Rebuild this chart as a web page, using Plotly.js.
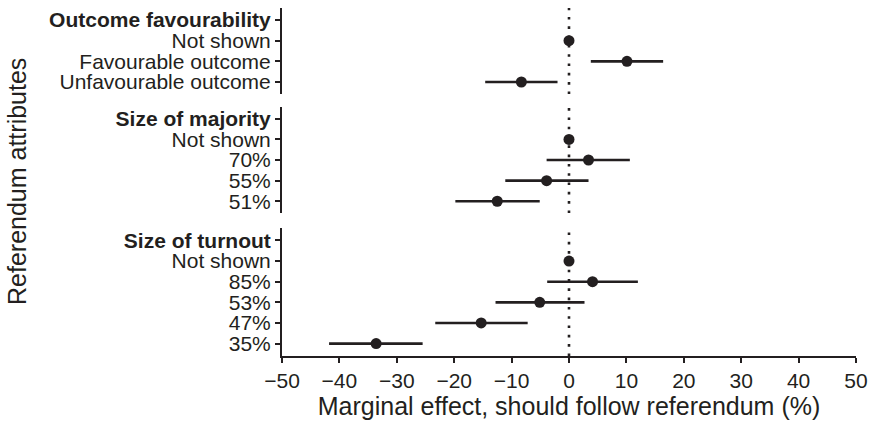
<!DOCTYPE html>
<html>
<head>
<meta charset="utf-8">
<script src="https://cdn.plot.ly/plotly-3.0.1.min.js"></script>
<style>html,body{margin:0;padding:0;background:#fff;}#chart{width:873px;height:422px;}</style>
</head>
<body>
<div id="chart"></div>
<script>
// Panel 1: Outcome favourability
const labels1 = ["<b>Outcome favourability</b>", "Not shown", "Favourable outcome", "Unfavourable outcome"];
const est1 = [null, 0, 10.1, -8.3];
const lo1  = [null, null, 3.8, -14.6];
const hi1  = [null, null, 16.4, -2.0];

// Panel 2: Size of majority
const labels2 = ["<b>Size of majority</b>", "Not shown", "70%", "55%", "51%"];
const est2 = [null, 0, 3.4, -3.9, -12.5];
const lo2  = [null, null, -3.9, -11.1, -19.8];
const hi2  = [null, null, 10.6, 3.4, -5.1];

// Panel 3: Size of turnout
const labels3 = ["<b>Size of turnout</b>", "Not shown", "85%", "53%", "47%", "35%"];
const est3 = [null, 0, 4.1, -5.1, -15.3, -33.6];
const lo3  = [null, null, -3.8, -12.8, -23.3, -41.8];
const hi3  = [null, null, 12.0, 2.7, -7.2, -25.5];

const xTicks = [-50, -40, -30, -20, -10, 0, 10, 20, 30, 40, 50];

const ink = "#231f20";
const fontFam = "'Liberation Sans', Arial, Helvetica, sans-serif";

function panelTrace(labels, est, lo, hi, yaxis) {
  const idx = labels.map((_, i) => i);
  return {
    type: "scatter", mode: "markers",
    x: est, y: idx, yaxis: yaxis, xaxis: "x",
    marker: {color: ink, size: 11},
    error_x: {
      type: "data", symmetric: false,
      array: est.map((v, i) => (hi[i] == null ? 0 : hi[i] - v)),
      arrayminus: est.map((v, i) => (lo[i] == null ? 0 : v - lo[i])),
      color: ink, thickness: 2.6, width: 0
    },
    hoverinfo: "x+y", showlegend: false
  };
}

function yAxis(labels, domain, pad) {
  return {
    domain: domain,
    range: [labels.length - 1 + pad, -pad],
    tickvals: labels.map((_, i) => i),
    ticktext: labels,
    showline: true, linecolor: ink, linewidth: 2,
    ticks: "outside", ticklen: 5, tickwidth: 2, tickcolor: ink,
    showgrid: false, zeroline: false, anchor: "x",
    tickfont: {size: 21, color: ink, family: fontFam},
    fixedrange: true
  };
}

const traces = [
  panelTrace(labels1, est1, lo1, hi1, "y"),
  panelTrace(labels2, est2, lo2, hi2, "y2"),
  panelTrace(labels3, est3, lo3, hi3, "y3")
];

function zeroLine(yref) {
  return {type: "line", xref: "x", yref: yref, x0: 0, x1: 0, y0: 0, y1: 1,
          line: {color: ink, width: 2.6, dash: "2.6px,6.7px"}, layer: "below"};
}

const layout = {
  width: 873, height: 422,
  margin: {l: 282, r: 17, t: 8, b: 66},
  paper_bgcolor: "#fff", plot_bgcolor: "#fff",
  font: {family: fontFam, color: ink},
  xaxis: {
    range: [-50, 50], tickvals: xTicks, anchor: "y3",
    showline: true, linecolor: ink, linewidth: 2,
    ticks: "outside", ticklen: 5, tickwidth: 2, tickcolor: ink,
    showgrid: false, zeroline: false,
    tickfont: {size: 21, color: ink, family: fontFam},
    title: {text: "Marginal effect, should follow referendum (%)", font: {size: 25, color: ink, family: fontFam}, standoff: 6},
    fixedrange: true
  },
  yaxis: yAxis(labels1, [0.7529, 1.0], 0.58),
  yaxis2: yAxis(labels2, [0.4109, 0.7155], 0.57),
  yaxis3: yAxis(labels3, [0.0, 0.3678], 0.6),
  shapes: [zeroLine("y domain"), zeroLine("y2 domain"), zeroLine("y3 domain")],
  annotations: [{
    text: "Referendum attributes", xref: "paper", yref: "paper",
    x: (17 - 282) / 574, y: 0.5, xanchor: "center", yanchor: "middle",
    textangle: -90, showarrow: false,
    font: {size: 25, color: ink, family: fontFam}
  }]
};

Plotly.newPlot("chart", traces, layout, {displayModeBar: false, staticPlot: true});
</script>
</body>
</html>
